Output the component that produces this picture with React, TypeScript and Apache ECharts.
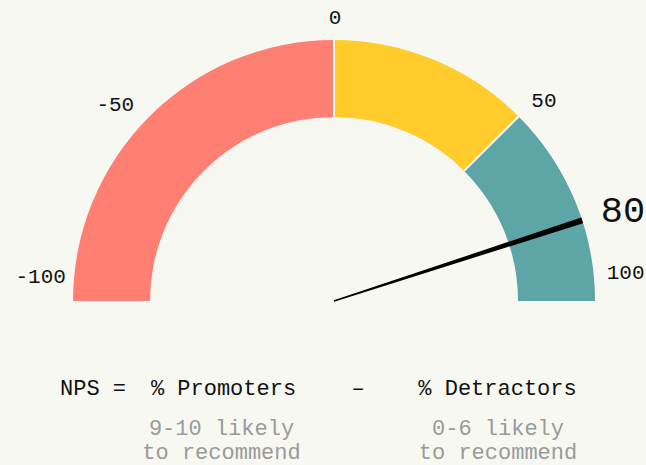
import React, { useEffect, useRef } from 'react';
import * as echarts from 'echarts';

// ---- data ----
const scaleMin = -100;
const scaleMax = 100;
const tickValues = [-100, -50, 0, 50, 100];
const bandEnds = [0, 50, 100];
const npsScore = 80;
const formulaParts = ['NPS =', '% Promoters', '–', '% Detractors'];
const promoterNote = ['9-10 likely', 'to recommend'];
const detractorNote = ['0-6 likely', 'to recommend'];

// ---- styles ----
const bandColors = ['#ff7f73', '#ffcc2b', '#5ea5a8'];
const bg = '#f8f8f3';
const FONT = '"Liberation Mono", "DejaVu Sans Mono", monospace';
// per-label nudges (padding [top,right,bottom,left])
const labelPads: number[][] = [
  [0, 0, 48, 17.5],
  [85, 0, 0, 0],
  [43, 0, 0, 2],
  [77, 15, 0, 0],
  [0, 25.5, 56, 0],
];

export default function App() {
  const ref = useRef<HTMLDivElement>(null);
  useEffect(() => {
    if (!ref.current) return;
    const chart = echarts.init(ref.current, undefined, { renderer: 'svg' });
    const span = scaleMax - scaleMin;
    const rich: Record<string, any> = {};
    tickValues.forEach((_, i) => {
      rich['t' + i] = {
        fontFamily: FONT,
        fontSize: 21,
        color: '#111',
        padding: labelPads[i],
      };
    });
    const cx = 334;
    const cy = 301;
    const R = 261;
    const W = 77;
    const mainText = (text: string, x: number, align: string) => ({
      type: 'text',
      x,
      y: 389,
      style: { text, font: `22px ${FONT}`, fill: '#111', align, verticalAlign: 'middle' },
    });
    const noteText = (text: string, x: number, y: number) => ({
      type: 'text',
      x,
      y,
      style: {
        text,
        font: `22px ${FONT}`,
        lineHeight: 18,
        fill: '#9a9a9a',
        align: 'center',
        verticalAlign: 'middle',
      },
    });
    chart.setOption({
      animation: false,
      backgroundColor: bg,
      series: [
        {
          type: 'gauge',
          center: [cx, cy],
          radius: R,
          startAngle: 180,
          endAngle: 0,
          min: scaleMin,
          max: scaleMax,
          splitNumber: tickValues.length - 1,
          axisLine: {
            lineStyle: {
              width: W,
              color: bandEnds.map((e, i) => [(e - scaleMin) / span, bandColors[i]]),
            },
          },
          splitLine: { show: false, length: 0, distance: 0 },
          axisTick: { show: false },
          axisLabel: {
            distance: -75,
            formatter: (v: number) => {
              const i = tickValues.indexOf(Math.round(v));
              return `{t${i}|${v}}`;
            },
            rich,
          },
          pointer: {
            show: true,
            icon: 'path://M0,0 L6,0 L3.7,100 L2.3,100 Z',
            length: '100%',
            width: 6,
            itemStyle: { color: '#000' },
          },
          anchor: { show: false },
          title: { show: false },
          detail: {
            show: true,
            offsetCenter: [289, -89],
            formatter: '{value}',
            fontFamily: FONT,
            fontSize: 37,
            fontWeight: 'normal',
            color: '#111',
          },
          data: [{ value: npsScore }],
        },
        {
          type: 'gauge',
          center: [cx, cy],
          radius: R,
          startAngle: 90,
          endAngle: 45,
          min: bandEnds[0],
          max: bandEnds[1],
          splitNumber: 1,
          axisLine: { show: false, lineStyle: { width: 0 } },
          splitLine: { show: true, length: W, distance: 0, lineStyle: { color: '#fff', width: 2 } },
          axisTick: { show: false },
          axisLabel: { show: false },
          pointer: { show: false },
          anchor: { show: false },
          title: { show: false },
          detail: { show: false },
          data: [{ value: 0 }],
        },
      ],
      graphic: [
        mainText(formulaParts[0], 60, 'left'),
        mainText(formulaParts[1], 223.5, 'center'),
        mainText(formulaParts[2], 358, 'center'),
        mainText(formulaParts[3], 497.5, 'center'),
        noteText(promoterNote[0], 221.5, 429),
        noteText(promoterNote[1], 221.5, 453.5),
        noteText(detractorNote[0], 498, 429),
        noteText(detractorNote[1], 498, 453.5),
      ],
    });
    return () => chart.dispose();
  }, []);
  return (
    <div
      ref={ref}
      style={{ position: 'fixed', left: 0, top: 0, width: 646, height: 465, background: bg }}
    />
  );
}
